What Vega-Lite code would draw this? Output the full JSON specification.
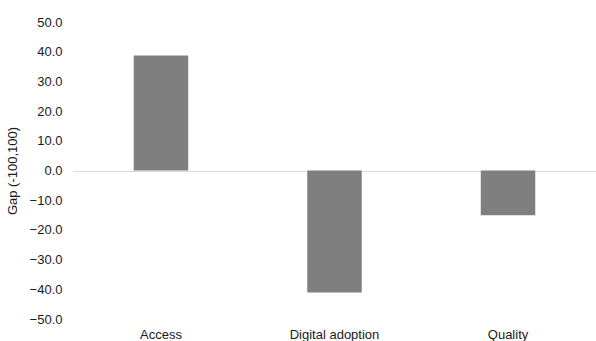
{
  "$schema": "https://vega.github.io/schema/vega-lite/v6.json",
  "autosize": "none",
  "width": 523,
  "height": 297,
  "padding": {"left": 73, "top": 22, "right": 0, "bottom": 22},
  "background": "white",
  "config": {
    "view": {"stroke": null},
    "font": "Liberation Sans"
  },
  "data": {
    "values": [
      {"dimension": "Access", "gap": 38.7},
      {"dimension": "Digital adoption", "gap": -41.1},
      {"dimension": "Quality", "gap": -15.1}
    ]
  },
  "mark": {"type": "bar", "color": "#7f7f7f"},
  "encoding": {
    "x": {
      "field": "dimension",
      "type": "nominal",
      "sort": null,
      "scale": {"paddingInner": 0.686, "paddingOuter": 0.35},
      "axis": {
        "title": null,
        "domain": false,
        "ticks": false,
        "labelAngle": 0,
        "labelFont": "Liberation Sans",
        "labelFontSize": 13,
        "labelColor": "#1a1a1a",
        "labelPadding": 9
      }
    },
    "y": {
      "field": "gap",
      "type": "quantitative",
      "scale": {"domain": [-50, 50], "nice": false, "zero": false},
      "axis": {
        "title": "Gap (-100,100)",
        "titleFont": "Liberation Sans",
        "titleFontSize": 13,
        "titleFontWeight": "normal",
        "titleColor": "#1a1a1a",
        "titlePadding": 10,
        "values": [-50, -40, -30, -20, -10, 0, 10, 20, 30, 40, 50],
        "format": ".1f",
        "domain": false,
        "ticks": false,
        "grid": true,
        "gridColor": {"condition": {"test": "datum.value === 0", "value": "#d9d9d9"}, "value": "transparent"},
        "gridWidth": 1,
        "labelOverlap": false,
        "labelFlush": false,
        "labelFont": "Liberation Sans",
        "labelFontSize": 13,
        "labelColor": "#1a1a1a",
        "labelPadding": 11
      }
    }
  }
}
